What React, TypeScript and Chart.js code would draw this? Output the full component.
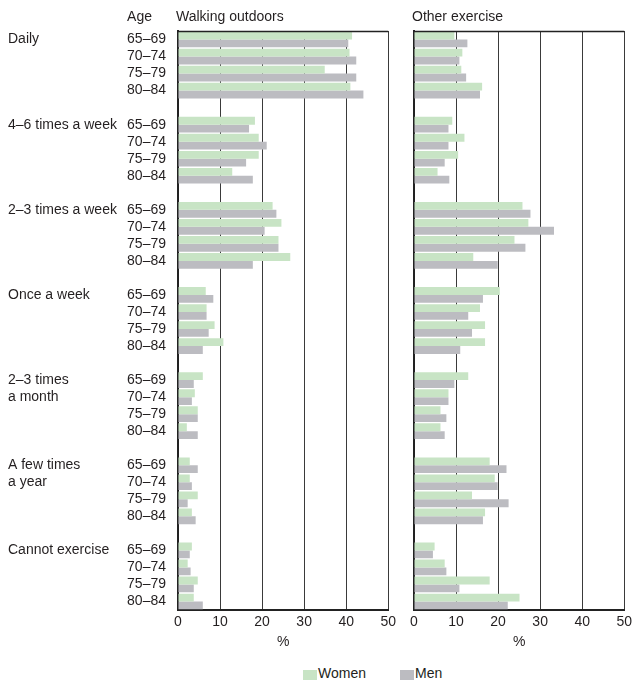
import React, { useEffect, useRef } from "react";
import { Chart, registerables } from "chart.js";

Chart.register(...registerables);

const FONT = "'Liberation Sans', Arial, sans-serif";
const TEXT = "#231f20";
const WOMEN_COLOR = "#c8e4c5";
const MEN_COLOR = "#bcbcc1";

const groups = [
  "Daily",
  "4–6 times a week",
  "2–3 times a week",
  "Once a week",
  "2–3 times\na month",
  "A few times\na year",
  "Cannot exercise",
];
const ages = ["65–69", "70–74", "75–79", "80–84"];
const xTicks = [0, 10, 20, 30, 40, 50];

// Walking outdoors (%), 7 groups x 4 ages
const walkWomen = [
  41.4, 40.8, 34.9, 41.0,
  18.3, 19.2, 19.2, 12.9,
  22.5, 24.6, 23.9, 26.7,
  6.6, 6.8, 8.7, 10.8,
  5.9, 4.0, 4.7, 2.1,
  2.8, 2.8, 4.7, 3.3,
  3.3, 2.3, 4.7, 3.75,
];
const walkMen = [
  40.5, 42.4, 42.4, 44.1,
  16.9, 21.1, 16.2, 17.8,
  23.4, 20.6, 23.9, 17.8,
  8.4, 6.8, 7.3, 5.9,
  3.75, 3.3, 4.7, 4.7,
  4.7, 3.3, 2.3, 4.2,
  2.8, 3.0, 3.75, 5.9,
];
// Other exercise (%)
const otherWomen = [
  9.6, 11.5, 11.25, 16.2,
  9.1, 12.0, 10.5, 5.6,
  25.8, 27.2, 23.9, 14.1,
  20.4, 15.7, 16.9, 16.9,
  12.9, 8.2, 6.3, 6.3,
  18.0, 19.2, 13.8, 16.9,
  4.9, 7.3, 18.0, 25.1,
];
const otherMen = [
  12.7, 10.8, 12.4, 15.7,
  8.2, 8.2, 7.3, 8.4,
  27.7, 33.3, 26.5, 19.9,
  16.4, 12.9, 13.8, 11.0,
  9.6, 8.2, 7.7, 7.3,
  22.0, 19.9, 22.5, 16.4,
  4.5, 7.7, 10.8, 22.3,
];

// Build category labels with blank spacer rows between groups
function buildLabels(): string[] {
  const out: string[] = [];
  groups.forEach((_, gi) => {
    ages.forEach((a) => out.push(a));
    if (gi < groups.length - 1) out.push("");
  });
  return out;
}
function expand(values: number[]): (number | null)[] {
  const out: (number | null)[] = [];
  groups.forEach((_, gi) => {
    ages.forEach((_, ai) => out.push(values[gi * ages.length + ai]));
    if (gi < groups.length - 1) out.push(null);
  });
  return out;
}
const groupStartIndex = (gi: number) => gi * (ages.length + 1);

function makeTextPlugin(title: string, showGroups: boolean) {
  return {
    id: "panelText" + title,
    afterDraw(chart: any) {
      const { ctx, chartArea } = chart;
      const y = chart.scales.y;
      ctx.save();
      // top border of plot frame
      ctx.strokeStyle = "#222";
      ctx.lineWidth = 1.5;
      ctx.beginPath();
      ctx.moveTo(chartArea.left, chartArea.top + 0.5);
      ctx.lineTo(chartArea.right, chartArea.top + 0.5);
      ctx.stroke();

      ctx.fillStyle = TEXT;
      ctx.font = `14px ${FONT}`;
      ctx.textBaseline = "middle";
      ctx.textAlign = "left";
      ctx.fillText(title, chartArea.left - 2, 17);
      if (showGroups) {
        const ageW = ctx.measureText(ages[0]).width;
        ctx.fillText("Age", chartArea.left - 12 - ageW, 17);
        groups.forEach((g, gi) => {
          const lines = g.split("\n");
          lines.forEach((ln, li) => {
            const py = y.getPixelForValue(groupStartIndex(gi) + li);
            ctx.fillText(ln, 8, py);
          });
        });
      }
      ctx.restore();
    },
  };
}

function makeConfig(women: number[], men: number[], title: string, left: boolean): any {
  const labels = buildLabels();
  return {
    type: "bar",
    data: {
      labels,
      datasets: [
        {
          label: "Women",
          data: expand(women),
          backgroundColor: WOMEN_COLOR,
          categoryPercentage: 0.92,
          barPercentage: 1,
        },
        {
          label: "Men",
          data: expand(men),
          backgroundColor: MEN_COLOR,
          categoryPercentage: 0.92,
          barPercentage: 1,
        },
      ],
    },
    options: {
      indexAxis: "y",
      responsive: false,
      animation: false,
      layout: { padding: { top: 31, right: left ? 9 : 8, left: 0, bottom: 6 } },
      plugins: { legend: { display: false }, tooltip: { enabled: false } },
      scales: {
        x: {
          min: 0,
          max: 50,
          afterBuildTicks: (s: any) => {
            s.ticks = xTicks.map((v) => ({ value: v }));
          },
          ticks: { color: TEXT, font: { family: FONT, size: 14 }, padding: 4 },
          grid: { color: "#3a3a3a", lineWidth: 1, drawTicks: false },
          border: { display: true, color: "#222", width: 2 },
          title: {
            display: true,
            text: "%",
            color: TEXT,
            font: { family: FONT, size: 14 },
            padding: { top: 0, bottom: 3 },
          },
          afterFit: (s: any) => {
            s.height = 44;
          },
        },
        y: {
          ticks: {
            display: left,
            autoSkip: false,
            color: TEXT,
            font: { family: FONT, size: 14 },
            padding: 12,
          },
          grid: { display: false, drawTicks: false },
          border: { display: true, color: "#222", width: 2 },
          afterFit: (s: any) => {
            s.width = left ? 178 : 14;
          },
        },
      },
    },
    plugins: [makeTextPlugin(title, left)],
  };
}

function Panel(props: { women: number[]; men: number[]; title: string; left: boolean; width: number; x: number }) {
  const ref = useRef<HTMLCanvasElement>(null);
  useEffect(() => {
    if (!ref.current) return;
    const chart = new Chart(ref.current, makeConfig(props.women, props.men, props.title, props.left));
    return () => chart.destroy();
  }, []);
  return (
    <canvas
      ref={ref}
      width={props.width}
      height={660}
      style={{ position: "absolute", left: props.x, top: 0, width: props.width, height: 660 }}
    />
  );
}

export default function App() {
  const legendItem = (label: string, color: string) => (
    <div style={{ display: "flex", alignItems: "center" }}>
      <span style={{ display: "inline-block", width: 14, height: 10, background: color, marginRight: 1, marginTop: 3 }} />
      <span>{label}</span>
    </div>
  );
  return (
    <div
      style={{
        position: "absolute",
        left: 0,
        top: 0,
        width: 636,
        height: 681,
        background: "#fff",
        overflow: "hidden",
      }}
    >
      <Panel women={walkWomen} men={walkMen} title="Walking outdoors" left={true} width={400} x={0} />
      <Panel women={otherWomen} men={otherMen} title="Other exercise" left={false} width={236} x={400} />
      <div
        style={{
          position: "absolute",
          left: 303,
          top: 665,
          display: "flex",
          gap: 34,
          fontFamily: FONT,
          fontSize: 14,
          lineHeight: "17px",
          color: TEXT,
        }}
      >
        {legendItem("Women", WOMEN_COLOR)}
        {legendItem("Men", MEN_COLOR)}
      </div>
    </div>
  );
}
